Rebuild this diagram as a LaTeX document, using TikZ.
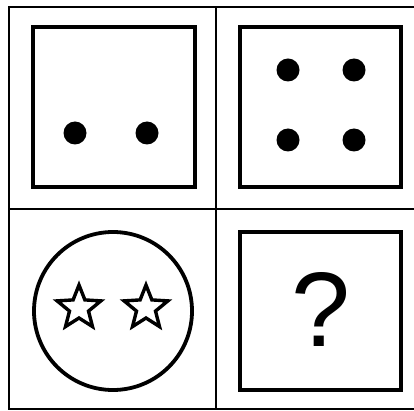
\documentclass[tikz,border=0pt]{standalone}
\usepackage{fontspec}
\setmainfont{Liberation Sans}
\usetikzlibrary{shapes.geometric}
\begin{document}
\begin{tikzpicture}[
      x=1pt, y=-1pt,
      gridline/.style={draw, line width=1.6pt},
      panel/.style={draw, line width=4.4pt},
      dot/.style={circle, fill, inner sep=0pt, minimum size=23pt},
      starmark/.style={star, star points=5, star point ratio=2.3, draw, line width=3.4pt, inner sep=0pt, minimum size=46pt}
    ]
    \useasboundingbox (0,0) rectangle (414,411);
    % grid
    \draw[gridline] (414,7) -- (9,7) -- (9,409) -- (414,409);
    \draw[gridline] (216,7) -- (216,409);
    \draw[gridline] (9,209) -- (414,209);
    % two dots
    \draw[panel] (33,27) rectangle (195,187);
    \node[dot] (d1) at (75,133) {};
    \node[dot] (d2) at (147,133) {};
    % four dots
    \draw[panel] (240,27) rectangle (401,187);
    \foreach \px in {288,354}
      \foreach \py in {70,140}
        \node[dot] (q\px\py) at (\px,\py) {};
    % circle with stars
    \draw[line width=3.8pt] (113,311) circle (79);
    \node[starmark] (s1) at (79,308) {};
    \node[starmark] (s2) at (146,308) {};
    % unknown
    \draw[panel] (240,232) rectangle (401,390);
    \node[font=\fontsize{106}{106}\selectfont] (ask) at (321,309) {?};
\end{tikzpicture}
\end{document}
